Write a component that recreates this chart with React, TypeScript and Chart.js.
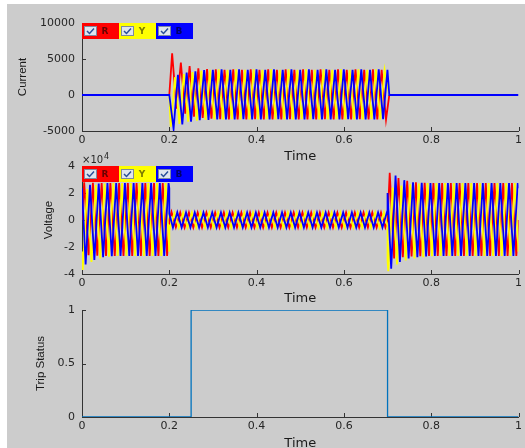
import React, { useEffect, useRef } from "react";
import { Chart, registerables } from "chart.js";

Chart.register(...registerables);

// ---------- data ----------
const HALF_CYCLE = 0.01; // 50 Hz: one extremum every 10 ms per phase
const FAULT_START = 0.2;
const FAULT_END = 0.7;
const CURRENT_STOP = 0.704;

const timeTicks = [0, 0.2, 0.4, 0.6, 0.8, 1];
const currentTicks = [-5000, 0, 5000, 10000];
const voltageTicks = [-40000, -20000, 0, 20000, 40000];
const tripTicks = [0, 0.5, 1];

const phaseNames = ["R", "Y", "B"];

// time of first extremum of each phase
const currentFirstPeak = [0.2065, 0.2032, 0.2098];
const voltageFirstPeak = [0.005, 0.00167, 0.00833];

// current extremes (A), one per half cycle, fault period
const currentR = [
  5800, -1900, 4500, -2600, 4000, -3000, 3700, -3200, 3600, -3300,
  3550, -3350, 3500, -3400, 3550, -3400, 3500, -3400, 3550, -3350,
  3500, -3400, 3550, -3400, 3500, -3400, 3550, -3350, 3500, -3400,
  3550, -3400, 3500, -3400, 3550, -3350, 3500, -3400, 3550, -3400,
  3500, -3400, 3550, -3350, 3500, -3400, 3550, -3400, 3500, -3400,
];
const currentY = [
  -4400, 2500, -4000, 2900, -3700, 3200, -3550, 3400, -3450, 3500,
  -3400, 3550, -3400, 3500, -3350, 3550, -3400, 3500, -3400, 3550,
  -3400, 3500, -3350, 3550, -3400, 3500, -3400, 3550, -3400, 3500,
  -3350, 3550, -3400, 3500, -3400, 3550, -3400, 3500, -3350, 3550,
  -3400, 3500, -3400, 3550, -3400, 3500, -3350, 3550, -3400, 3500,
];
const currentB = [
  -4700, 2800, -4100, 3100, -3700, 3300, -3500, 3450, -3450, 3500,
  -3400, 3550, -3400, 3500, -3400, 3550, -3350, 3500, -3400, 3550,
  -3400, 3500, -3400, 3550, -3350, 3500, -3400, 3550, -3400, 3500,
  -3400, 3550, -3350, 3500, -3400, 3550, -3400, 3500, -3400, 3550,
  -3350, 3500, -3400, 3550, -3400, 3500, -3400, 3550, -3350, 3500,
];

// voltage extremes (V): before fault (0-0.2), during fault (0.2-0.7), after (0.7-1)
const voltPreR = [28000, -26000, 27500, -26500, 27400, -26700, 27300, -26700, 27400, -26700, 27300, -26700, 27400, -26700, 27300, -26700, 27400, -26700, 27300, -26700];
const voltPreY = [-37000, 23000, -31000, 26000, -28500, 27000, -27200, 27300, -26700, 27400, -26700, 27300, -26700, 27400, -26700, 27300, -26700, 27400, -26700, 27300];
const voltPreB = [-33000, 26000, -29500, 27000, -27500, 27300, -26800, 27400, -26700, 27300, -26700, 27400, -26700, 27300, -26700, 27400, -26700, 27300, -26700, 27400];

const voltMidR = [
  6000, -5400, 5600, -5600, 5500, -5600, 5500, -5500, 5600, -5600,
  5500, -5600, 5500, -5500, 5600, -5600, 5500, -5600, 5500, -5500,
  5600, -5600, 5500, -5600, 5500, -5500, 5600, -5600, 5500, -5600,
  5500, -5500, 5600, -5600, 5500, -5600, 5500, -5500, 5600, -5600,
  5500, -5600, 5500, -5500, 5600, -5600, 5500, -5600, 5500, -5500,
];
const voltMidY = [
  -5800, 5200, -5600, 5500, -5600, 5500, -5500, 5600, -5600, 5500,
  -5600, 5500, -5500, 5600, -5600, 5500, -5600, 5500, -5500, 5600,
  -5600, 5500, -5600, 5500, -5500, 5600, -5600, 5500, -5600, 5500,
  -5500, 5600, -5600, 5500, -5600, 5500, -5500, 5600, -5600, 5500,
  -5600, 5500, -5500, 5600, -5600, 5500, -5600, 5500, -5500, 5600,
];
const voltMidB = [
  -5600, 5800, -5500, 5600, -5600, 5500, -5600, 5500, -5500, 5600,
  -5600, 5500, -5600, 5500, -5500, 5600, -5600, 5500, -5600, 5500,
  -5500, 5600, -5600, 5500, -5600, 5500, -5500, 5600, -5600, 5500,
  -5600, 5500, -5500, 5600, -5600, 5500, -5600, 5500, -5500, 5600,
  -5600, 5500, -5600, 5500, -5500, 5600, -5600, 5500, -5600, 5500,
];

const voltPostR = [35000, -28500, 31000, -27500, 29000, -27000, 28000, -26800, 27500, -26700, 27400, -26700, 27400, -26700, 27300, -26700, 27400, -26700, 27300, -26700, 27400, -26700, 27300, -26700, 27400, -26700, 27300, -26700, 27400, -26700];
const voltPostY = [-38000, 24000, -33000, 25500, -30000, 26500, -28500, 27000, -27500, 27300, -26800, 27400, -26700, 27300, -26700, 27400, -26700, 27300, -26700, 27400, -26700, 27300, -26700, 27400, -26700, 27300, -26700, 27400, -26700, 27300];
const voltPostB = [-36000, 33000, -31000, 29500, -28500, 28000, -27500, 27500, -27000, 27400, -26700, 27300, -26700, 27400, -26700, 27300, -26700, 27400, -26700, 27300, -26700, 27400, -26700, 27300, -26700, 27400, -26700, 27300, -26700, 27400];

// instantaneous voltage at t=0, at the fault steps [0.2-, 0.2+, 0.7-, 0.7+] and at t=1
const voltStart = [0, -23400, 23400];
const voltStepR = [0, 0, 0, 0];
const voltStepY = [-23400, -4700, -4700, -30000];
const voltStepB = [23400, 4700, 4700, 20000];
const voltEnd = [0, -23400, 23400];

// trip status
const tripTime = [0, 0.25, 0.25, 0.7, 0.7, 1];
const tripStatus = [0, 0, 1, 1, 0, 0];

// ---------- styling ----------
const FONT = "DejaVu Sans";
const YTITLE_FONT = "Liberation Sans";
const AXIS = "#333333";
const TEXT = "#262626";
const phaseColors = ["#ff0000", "#ffff00", "#0000ff"];
const legendTextColors = ["#6a0000", "#7a7a00", "#00006a"];
const W = 518;

type P = { x: number; y: number };

function wave(t0: number, startIndex: number, peaks: number[]): P[] {
  return peaks.map((y, i) => ({ x: t0 + (startIndex + i) * HALF_CYCLE, y }));
}

// R and Y lie under B where all three are zero, so only B carries the flat parts
function currentSeries(i: number, peaks: number[], withFlat: boolean): P[] {
  const core = [{ x: FAULT_START, y: 0 }, ...wave(currentFirstPeak[i], 0, peaks), { x: CURRENT_STOP, y: 0 }];
  return withFlat ? [{ x: 0, y: 0 }, ...core, { x: 1, y: 0 }] : core;
}

function voltageSeries(i: number, pre: number[], mid: number[], post: number[], step: number[]): P[] {
  const t0 = voltageFirstPeak[i];
  return [
    { x: 0, y: voltStart[i] },
    ...wave(t0, 0, pre),
    { x: FAULT_START, y: step[0] },
    { x: FAULT_START, y: step[1] },
    ...wave(t0, pre.length, mid),
    { x: FAULT_END, y: step[2] },
    { x: FAULT_END, y: step[3] },
    ...wave(t0, pre.length + mid.length, post),
    { x: 1, y: voltEnd[i] },
  ];
}

function phaseDatasets(series: P[][]) {
  return series.map((data, i) => ({
    label: phaseNames[i],
    data,
    borderColor: phaseColors[i],
    backgroundColor: phaseColors[i],
    borderWidth: 1.8,
    pointRadius: 0,
    tension: 0,
    fill: false,
    order: 3 - i,
  }));
}

const inwardTicks = {
  id: "inwardTicks",
  beforeDatasetsDraw(chart: any) {
    const { ctx, chartArea, scales } = chart;
    ctx.save();
    ctx.strokeStyle = AXIS;
    ctx.lineWidth = 1;
    scales.x.ticks.forEach((t: any) => {
      const px = Math.round(scales.x.getPixelForValue(t.value)) + 0.5;
      ctx.beginPath();
      ctx.moveTo(px, chartArea.bottom);
      ctx.lineTo(px, chartArea.bottom - 4);
      ctx.stroke();
    });
    scales.y.ticks.forEach((t: any) => {
      const py = Math.round(scales.y.getPixelForValue(t.value)) + 0.5;
      ctx.beginPath();
      ctx.moveTo(chartArea.left, py);
      ctx.lineTo(chartArea.left + 4, py);
      ctx.stroke();
    });
    ctx.restore();
  },
};

const legendPlugin = {
  id: "rybLegend",
  afterDraw(chart: any) {
    const { ctx, chartArea } = chart;
    const w = 37;
    const h = 16;
    ctx.save();
    phaseNames.forEach((name, i) => {
      const x = chartArea.left + i * w;
      const y = chartArea.top;
      ctx.fillStyle = phaseColors[i];
      ctx.fillRect(x, y, w, h);
      ctx.fillStyle = "#dfe5ee";
      ctx.fillRect(x + 2.5, y + 3.5, 12, 9);
      ctx.strokeStyle = "#7d8aa0";
      ctx.lineWidth = 1;
      ctx.strokeRect(x + 2.5, y + 3.5, 12, 9);
      ctx.strokeStyle = "#2a4f9a";
      ctx.lineWidth = 1.5;
      ctx.beginPath();
      ctx.moveTo(x + 5, y + 8);
      ctx.lineTo(x + 7.5, y + 10.5);
      ctx.lineTo(x + 12, y + 5.5);
      ctx.stroke();
      ctx.fillStyle = legendTextColors[i];
      ctx.font = `bold 9px "${FONT}"`;
      ctx.textAlign = "center";
      ctx.textBaseline = "middle";
      ctx.fillText(name, x + 23, y + h / 2 + 0.5);
    });
    ctx.restore();
  },
};

const exponentPlugin = {
  id: "exponent",
  afterDraw(chart: any) {
    const { ctx, chartArea } = chart;
    ctx.save();
    ctx.fillStyle = TEXT;
    ctx.textAlign = "left";
    ctx.textBaseline = "alphabetic";
    ctx.font = `10px "${FONT}"`;
    const base = "×10";
    ctx.fillText(base, chartArea.left, chartArea.top - 3);
    const bw = ctx.measureText(base).width;
    ctx.font = `8px "${FONT}"`;
    ctx.fillText("4", chartArea.left + bw + 1, chartArea.top - 7);
    ctx.restore();
  },
};

type PanelProps = {
  top: number;
  height: number;
  areaTop: number;
  areaBottom: number;
  datasets: any[];
  yTicks: number[];
  yFmt: (v: number) => string;
  yTitle: string;
  yTitlePad: number;
  extraPlugins: any[];
};

function Panel(props: PanelProps) {
  const ref = useRef<HTMLCanvasElement>(null);
  useEffect(() => {
    const { height, areaTop, areaBottom, datasets, yTicks, yFmt, yTitle, yTitlePad, extraPlugins } = props;
    const chart = new Chart(ref.current as HTMLCanvasElement, {
      type: "line",
      data: { datasets },
      options: {
        animation: false,
        responsive: false,
        devicePixelRatio: 1,
        layout: { padding: { left: 0, right: 4, top: areaTop, bottom: 0 } },
        plugins: { legend: { display: false }, tooltip: { enabled: false } },
        scales: {
          x: {
            type: "linear",
            min: timeTicks[0],
            max: timeTicks[timeTicks.length - 1],
            afterBuildTicks: (s: any) => {
              s.ticks = timeTicks.map((v) => ({ value: v }));
            },
            afterFit: (s: any) => {
              s.height = height - areaBottom;
            },
            grid: { display: false, drawTicks: false },
            border: { display: true, color: AXIS, width: 1 },
            ticks: {
              color: TEXT,
              padding: 3,
              maxRotation: 0,
              autoSkip: false,
              font: { family: FONT, size: 11 },
              callback: (v: any) => String(Math.round(Number(v) * 10) / 10),
            },
            title: {
              display: true,
              text: "Time",
              color: "#1a1a1a",
              font: { family: FONT, size: 13 },
              padding: { top: 0, bottom: 0 },
            },
          },
          y: {
            type: "linear",
            min: yTicks[0],
            max: yTicks[yTicks.length - 1],
            afterBuildTicks: (s: any) => {
              s.ticks = yTicks.map((v) => ({ value: v }));
            },
            afterFit: (s: any) => {
              s.width = 75;
            },
            grid: { display: false, drawTicks: false },
            border: { display: true, color: AXIS, width: 1 },
            ticks: {
              color: TEXT,
              padding: 7,
              autoSkip: false,
              font: { family: FONT, size: 11 },
              callback: (v: any) => yFmt(Number(v)),
            },
            title: {
              display: true,
              text: yTitle,
              color: "#1a1a1a",
              font: { family: YTITLE_FONT, size: 11.5 },
              padding: { top: yTitlePad, bottom: 0 },
            },
          },
        },
      } as any,
      plugins: [inwardTicks, ...extraPlugins],
    });
    return () => chart.destroy();
  }, []);
  return (
    <canvas
      ref={ref}
      width={W}
      height={props.height}
      style={{ position: "absolute", left: 0, top: props.top, width: W, height: props.height }}
    />
  );
}

export default function App() {
  const currentSets = phaseDatasets([
    currentSeries(0, currentR, false),
    currentSeries(1, currentY, false),
    currentSeries(2, currentB, true),
  ]);
  const voltageSets = phaseDatasets([
    voltageSeries(0, voltPreR, voltMidR, voltPostR, voltStepR),
    voltageSeries(1, voltPreY, voltMidY, voltPostY, voltStepY),
    voltageSeries(2, voltPreB, voltMidB, voltPostB, voltStepB),
  ]);
  const tripSets = [
    {
      label: "Trip Status",
      data: tripTime.map((x, i) => ({ x, y: tripStatus[i] })),
      borderColor: "#0072bd",
      borderWidth: 1.3,
      pointRadius: 0,
      tension: 0,
      fill: false,
    },
  ];
  return (
    <div
      style={{
        position: "absolute",
        left: 7,
        top: 4,
        width: W,
        height: 444,
        background: "#cccccc",
        overflow: "hidden",
      }}
    >
      <Panel
        top={0}
        height={160}
        areaTop={19}
        areaBottom={127}
        datasets={currentSets}
        yTicks={currentTicks}
        yFmt={(v) => String(v)}
        yTitle="Current"
        yTitlePad={9}
        extraPlugins={[legendPlugin]}
      />
      <Panel
        top={146}
        height={156}
        areaTop={16}
        areaBottom={124}
        datasets={voltageSets}
        yTicks={voltageTicks}
        yFmt={(v) => String(v / 10000)}
        yTitle="Voltage"
        yTitlePad={35}
        extraPlugins={[legendPlugin, exponentPlugin]}
      />
      <Panel
        top={286}
        height={161}
        areaTop={20}
        areaBottom={127}
        datasets={tripSets}
        yTicks={tripTicks}
        yFmt={(v) => String(v)}
        yTitle="Trip Status"
        yTitlePad={27}
        extraPlugins={[]}
      />
    </div>
  );
}
